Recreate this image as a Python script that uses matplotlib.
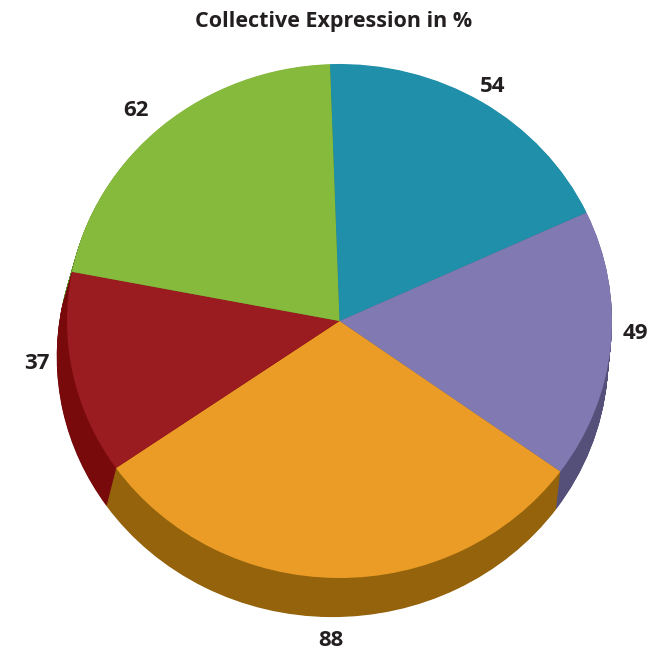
import numpy as np
import matplotlib
matplotlib.use("Agg")
import matplotlib.pyplot as plt

# Data
categories = ["A", "B", "C", "D", "E"]
values = [54, 49, 88, 37, 62]
top_colors = ["#208fa9", "#817ab2", "#ea9c26", "#9a1b20", "#86ba3c"]
side_colors = ["#166a7d", "#55507a", "#95630c", "#780a0c", "#5e8a28"]
title = "Collective Expression in %"

W, H = 649, 656
DPI = 100
# ellipse geometry of the pie top face (pixels)
cx, cy, rx, ry = 339.5, 321.0, 272.5, 257.0
# bottom face offset / scale (normalized units)
bot_dx, bot_dy, bot_scale = -7.0 / rx, -36.0 / ry, 1.012
start = 92.0

fig = plt.figure(figsize=(W / DPI, H / DPI), dpi=DPI)
ax = fig.add_axes([0, 0, 1, 1])

font = ["Open Sans", "DejaVu Sans"]

# extruded side: stacked darker copies from the bottom up to the top face
n_layers = 60
for k in range(n_layers, 0, -1):
    t = k / n_layers
    ax.pie(values, colors=side_colors, startangle=start, counterclock=False,
           center=(bot_dx * t, bot_dy * t), radius=1 + (bot_scale - 1) * t,
           wedgeprops=dict(linewidth=0), frame=True)

# top face
wedges, _ = ax.pie(values, colors=top_colors, startangle=start, counterclock=False,
                   center=(0, 0), radius=1.0, wedgeprops=dict(linewidth=0), frame=True)

ax.set_xlim((0 - cx) / rx, (W - cx) / rx)
ax.set_ylim((cy - H) / ry, cy / ry)
ax.set_aspect("auto")
ax.axis("off")

# value labels: just outside the rim, lifted a little, below the wall at the bottom
shift_x, gap_x, gap_y, lift, wall = -6.0, 31.0, 4.0, 12.0, 71.0
for w, v in zip(wedges, values):
    mid = np.deg2rad((w.theta1 + w.theta2) / 2)
    c, s = np.cos(mid), np.sin(mid)
    lx = c + (shift_x + gap_x * c) / rx
    ly = s + (gap_y * s + lift - wall * max(0.0, -s) ** 4) / ry
    ax.text(lx, ly, str(v), ha="center", va="center", fontsize=16,
            fontweight="bold", color="#231f20", family=font)

fig.text(334.0 / W, 1 - 21.0 / H, title, ha="center", va="center",
         fontsize=15.5, fontweight="bold", color="#231f20", family=font)

fig.savefig("out.png", dpi=DPI)
